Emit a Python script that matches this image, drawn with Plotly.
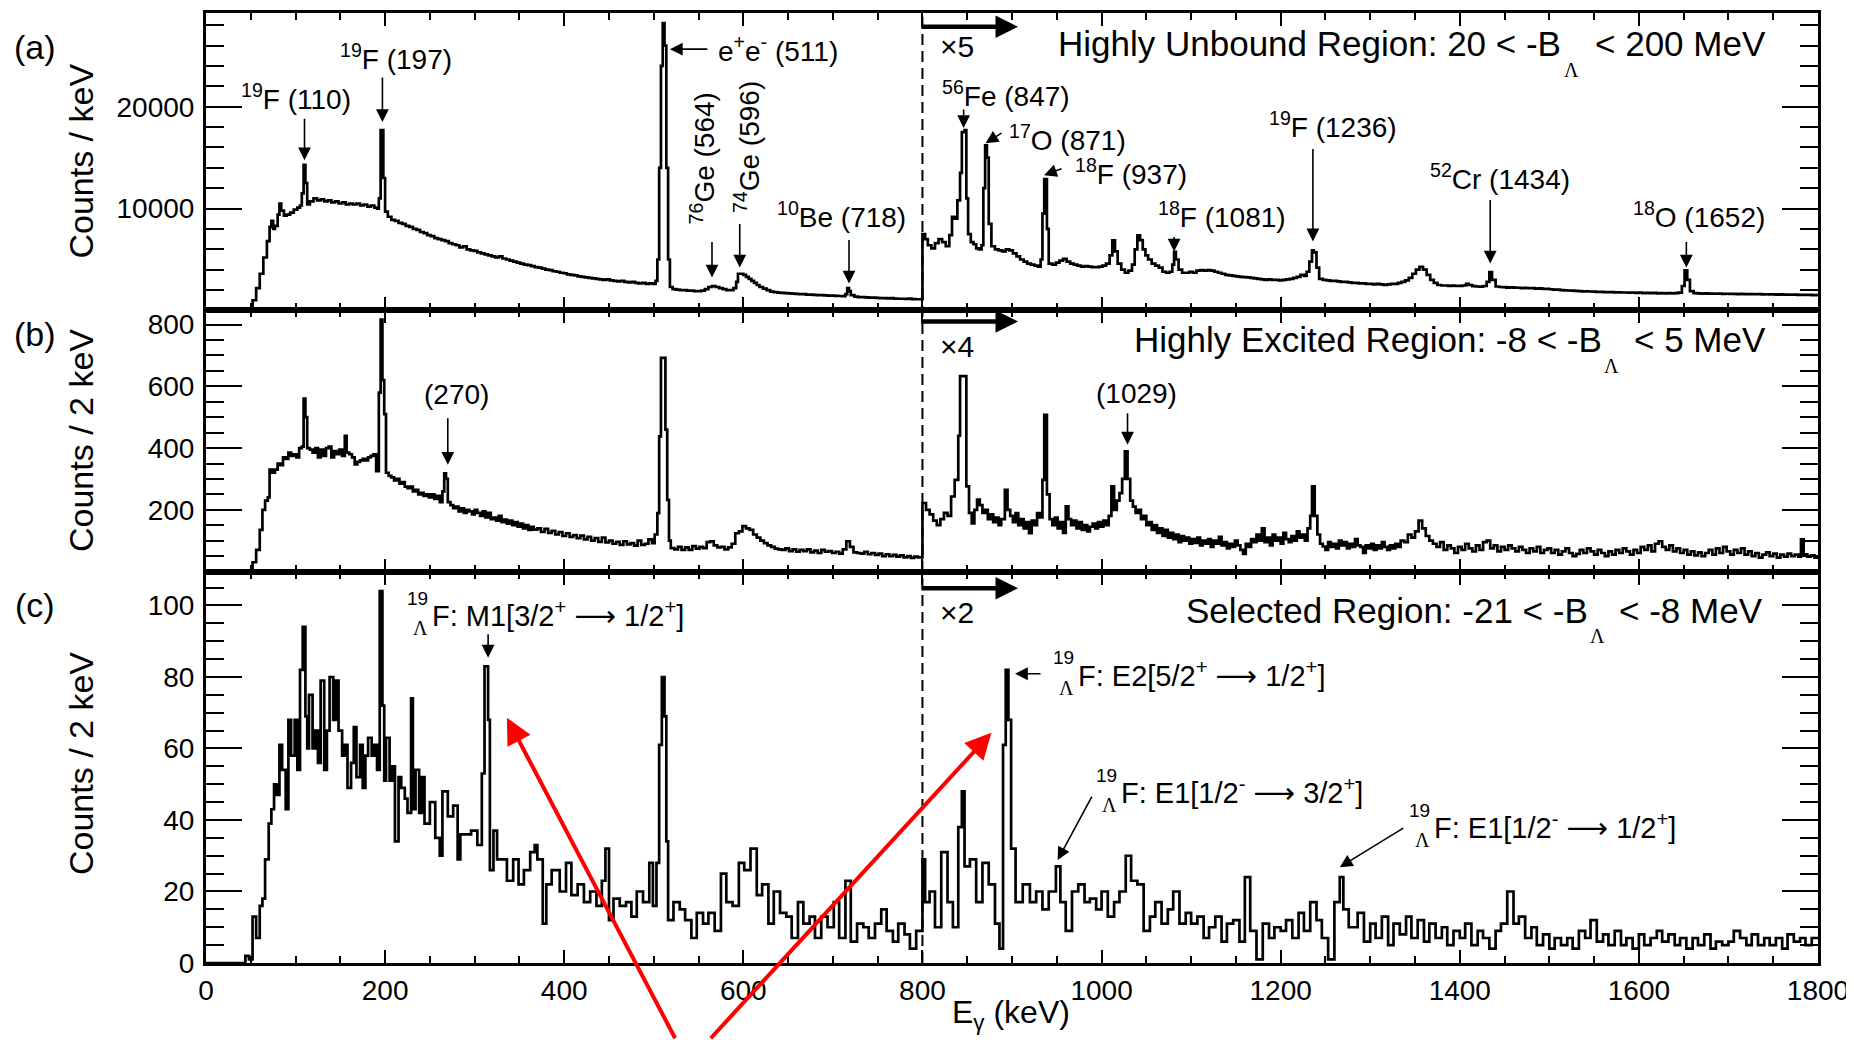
import plotly.graph_objects as go

# ---------------- data (energy keV, counts) ----------------
spectrum_a = [
    (0, 0), (48, 0), (52, 1000), (56, 2200), (60, 3600), (64, 5200), (68, 6800), (71, 8200), (73, 8800), (75, 8000),
    (77, 8300), (80, 9400), (82, 10500), (84, 9800), (87, 9300), (90, 9400), (94, 9600), (98, 9900), (102, 10100), (105, 10300),
    (107, 11500), (109, 14300), (111, 12500), (113, 10400), (116, 10700), (120, 11000), (124, 10800), (128, 10900), (132, 10700), (136, 10800),
    (140, 10600), (144, 10700), (148, 10500), (152, 10600), (156, 10400), (160, 10500), (164, 10400), (168, 10500), (172, 10300), (176, 10400),
    (180, 10200), (184, 10300), (188, 10100), (191, 10000), (193, 11000), (195, 17700), (198, 13000), (200, 9700), (203, 9200), (207, 8900),
    (211, 8800), (215, 8600), (219, 8500), (223, 8300), (227, 8200), (231, 8000), (235, 7900), (239, 7700), (243, 7600), (247, 7400),
    (251, 7300), (255, 7100), (259, 7000), (263, 6900), (267, 6800), (271, 6600), (275, 6500), (279, 6400), (283, 6200), (287, 6300),
    (291, 6000), (295, 5900), (299, 5850), (303, 5700), (307, 5600), (311, 5500), (315, 5400), (319, 5300), (323, 5200), (327, 5300),
    (331, 5100), (335, 5000), (339, 4900), (343, 4800), (347, 4700), (351, 4600), (355, 4500), (359, 4450), (363, 4350), (367, 4250),
    (371, 4200), (375, 4100), (379, 4000), (383, 3950), (387, 3850), (391, 3800), (395, 3700), (399, 3650), (403, 3550), (407, 3500),
    (411, 3450), (415, 3350), (419, 3300), (423, 3250), (427, 3200), (431, 3150), (435, 3100), (439, 3050), (443, 3000), (447, 3050),
    (451, 2950), (455, 2900), (459, 2850), (463, 2900), (467, 2800), (471, 2750), (475, 2800), (479, 2700), (483, 2650), (487, 2700),
    (491, 2600), (495, 2650), (499, 2600), (502, 2900), (504, 5000), (506, 14000), (508, 24000), (510, 28200), (512, 26000), (514, 14000),
    (516, 5000), (518, 2300), (521, 2100), (525, 2050), (529, 2000), (533, 2000), (537, 1950), (541, 1950), (545, 1900), (549, 1900),
    (553, 1950), (557, 2100), (561, 2300), (565, 2400), (569, 2300), (573, 2200), (577, 2100), (581, 2000), (585, 2000), (589, 2200),
    (592, 2800), (594, 3600), (597, 3600), (600, 3500), (603, 3300), (606, 3100), (609, 2900), (612, 2700), (615, 2500), (618, 2300),
    (622, 2150), (626, 2000), (630, 1850), (634, 1800), (638, 1750), (642, 1720), (646, 1700), (650, 1680), (654, 1650), (658, 1620),
    (662, 1600), (666, 1600), (670, 1560), (674, 1550), (678, 1530), (682, 1500), (686, 1500), (690, 1480), (694, 1460), (698, 1450),
    (702, 1440), (706, 1420), (710, 1400), (714, 1600), (716, 2200), (718, 1900), (720, 1500), (724, 1350), (728, 1300), (732, 1300),
    (736, 1280), (740, 1250), (744, 1250), (748, 1230), (752, 1200), (756, 1200), (760, 1180), (764, 1200), (768, 1170), (772, 1150),
    (776, 1150), (780, 1130), (784, 1160), (788, 1120), (792, 1100), (796, 1100),
    (800, 7500), (803, 7000), (806, 6400), (810, 6100), (814, 6600), (818, 7000), (822, 6700), (826, 6300), (830, 7400), (833, 9200),
    (836, 9000), (839, 10800), (842, 13500), (844, 17500), (847, 17700), (849, 11000), (851, 7500), (854, 6700), (857, 6500), (860, 6100),
    (863, 6000), (866, 6400), (868, 12000), (870, 16200), (872, 15000), (874, 8500), (877, 6300), (881, 6000), (885, 5900), (889, 5800),
    (893, 6000), (897, 5900), (901, 5600), (905, 5300), (909, 5000), (913, 4800), (917, 4600), (921, 4500), (925, 4400), (929, 4300),
    (932, 5000), (934, 9500), (936, 12900), (939, 8000), (941, 4600), (945, 4500), (949, 4700), (953, 4900), (957, 5070), (961, 4800),
    (965, 4600), (969, 4500), (973, 4400), (977, 4300), (981, 4350), (985, 4300), (989, 4250), (993, 4250), (997, 4300), (1001, 4400),
    (1005, 4600), (1009, 5400), (1012, 6880), (1015, 5800), (1018, 4600), (1022, 4000), (1026, 3700), (1030, 3900), (1034, 4500), (1037, 6000),
    (1040, 7370), (1043, 6900), (1046, 6000), (1049, 5400), (1052, 5000), (1056, 4600), (1060, 4400), (1064, 4200), (1068, 3800), (1072, 3700),
    (1076, 3800), (1079, 4500), (1081, 5750), (1083, 5000), (1086, 4000), (1090, 3700), (1094, 3700), (1098, 3800), (1102, 3700), (1106, 3900),
    (1110, 3950), (1114, 3900), (1118, 3950), (1122, 3900), (1126, 3800), (1130, 3700), (1134, 3600), (1138, 3500), (1142, 3450), (1146, 3400),
    (1150, 3350), (1154, 3300), (1158, 3280), (1162, 3250), (1166, 3200), (1170, 3150), (1174, 3100), (1178, 3050), (1182, 3000), (1186, 3050),
    (1190, 3000), (1194, 3000), (1198, 2950), (1202, 3000), (1206, 3050), (1210, 3100), (1214, 3200), (1218, 3300), (1222, 3500), (1226, 3400),
    (1229, 3800), (1232, 4800), (1235, 5900), (1237, 5700), (1240, 4200), (1243, 3100), (1247, 3000), (1251, 2950), (1255, 2900), (1259, 2900),
    (1263, 2850), (1267, 2800), (1271, 2800), (1275, 2750), (1279, 2700), (1283, 2700), (1287, 2650), (1291, 2650), (1295, 2600), (1299, 2600),
    (1303, 2550), (1307, 2600), (1311, 2550), (1315, 2500), (1319, 2550), (1323, 2600), (1327, 2600), (1331, 2700), (1335, 2800), (1339, 2950),
    (1343, 3200), (1347, 3600), (1351, 4000), (1355, 4270), (1359, 4000), (1363, 3500), (1367, 3000), (1371, 2700), (1375, 2500), (1379, 2450),
    (1383, 2450), (1387, 2420), (1391, 2430), (1395, 2400), (1399, 2420), (1403, 2450), (1407, 2600), (1410, 2500), (1414, 2380), (1418, 2350),
    (1422, 2330), (1426, 2400), (1430, 2800), (1433, 3770), (1436, 3000), (1440, 2350), (1444, 2300), (1448, 2280), (1452, 2250), (1456, 2270),
    (1460, 2240), (1464, 2230), (1468, 2200), (1472, 2220), (1476, 2180), (1480, 2200), (1484, 2150), (1488, 2160), (1492, 2120), (1496, 2130),
    (1500, 2080), (1504, 2050), (1508, 2040), (1512, 2000), (1516, 1980), (1520, 1960), (1524, 1950), (1528, 1920), (1532, 1900), (1536, 1880),
    (1540, 1870), (1544, 1860), (1548, 1840), (1552, 1830), (1556, 1820), (1560, 1800), (1564, 1790), (1568, 1800), (1572, 1770), (1576, 1780),
    (1580, 1760), (1584, 1760), (1588, 1740), (1592, 1760), (1596, 1720), (1600, 1740), (1604, 1700), (1608, 1720), (1612, 1700), (1616, 1720),
    (1620, 1680), (1624, 1700), (1628, 1680), (1632, 1700), (1636, 1680), (1640, 1700), (1644, 1750), (1648, 2400), (1651, 3930), (1654, 3000),
    (1657, 1900), (1661, 1700), (1665, 1680), (1669, 1660), (1673, 1680), (1677, 1650), (1681, 1660), (1685, 1640), (1689, 1650), (1693, 1630),
    (1697, 1640), (1701, 1620), (1705, 1630), (1709, 1610), (1713, 1620), (1717, 1600), (1721, 1610), (1725, 1600), (1729, 1590), (1733, 1600),
    (1737, 1580), (1741, 1590), (1745, 1570), (1749, 1580), (1753, 1560), (1757, 1570), (1761, 1550), (1765, 1560), (1769, 1540), (1773, 1550),
    (1777, 1530), (1781, 1540), (1785, 1520), (1789, 1530), (1793, 1510), (1797, 1500), (1800, 1500),
]

spectrum_b = [
    (0, 0), (48, 0), (52, 30), (56, 70), (60, 135), (63, 200), (66, 230), (69, 240), (71, 330), (74, 320),
    (77, 330), (80, 350), (83, 345), (86, 370), (89, 365), (92, 385), (95, 375), (98, 380), (101, 370), (104, 400),
    (107, 405), (109, 560), (111, 500), (113, 400), (116, 395), (119, 385), (122, 400), (125, 370), (128, 395), (131, 375),
    (134, 400), (137, 405), (140, 370), (143, 390), (146, 380), (149, 395), (152, 375), (155, 440), (157, 385), (160, 380),
    (163, 370), (166, 347), (169, 355), (172, 360), (175, 365), (178, 360), (181, 370), (184, 375), (187, 380), (190, 325),
    (193, 580), (195, 816), (197, 620), (199, 510), (201, 320), (204, 310), (207, 305), (210, 295), (213, 300), (216, 285),
    (219, 290), (222, 275), (225, 270), (228, 275), (231, 260), (234, 265), (237, 250), (240, 255), (243, 245), (246, 250),
    (249, 240), (252, 250), (255, 235), (258, 245), (261, 225), (264, 260), (266, 318), (268, 300), (270, 225), (273, 215),
    (276, 205), (279, 210), (282, 195), (285, 205), (288, 190), (291, 200), (294, 195), (297, 185), (300, 200), (303, 190),
    (306, 180), (309, 195), (312, 175), (315, 190), (318, 170), (321, 175), (324, 165), (327, 180), (330, 160), (333, 168),
    (336, 155), (339, 165), (342, 150), (345, 160), (348, 145), (351, 155), (354, 140), (357, 150), (360, 135), (363, 145),
    (366, 136), (370, 140), (374, 128), (378, 138), (382, 125), (386, 132), (390, 120), (394, 128), (398, 115), (402, 124),
    (406, 112), (410, 118), (414, 108), (418, 116), (422, 104), (426, 112), (430, 100), (434, 108), (438, 96), (442, 110),
    (446, 94), (450, 100), (454, 90), (458, 96), (462, 86), (466, 98), (470, 88), (474, 92), (478, 84), (482, 100),
    (486, 86), (490, 90), (494, 104), (498, 92), (501, 120), (504, 189), (506, 438), (508, 692), (511, 692), (513, 460),
    (515, 232), (517, 100), (519, 76), (523, 72), (527, 80), (531, 70), (535, 78), (539, 70), (543, 82), (547, 74),
    (551, 80), (555, 76), (559, 95), (563, 98), (567, 85), (571, 78), (575, 80), (579, 72), (583, 78), (587, 90),
    (591, 124), (595, 130), (599, 147), (603, 140), (607, 135), (611, 120), (615, 110), (619, 100), (623, 92), (627, 85),
    (631, 80), (635, 74), (639, 72), (643, 70), (647, 75), (651, 66), (655, 72), (659, 64), (663, 70), (667, 66),
    (671, 72), (675, 62), (679, 68), (683, 60), (687, 70), (691, 64), (695, 66), (699, 60), (703, 64), (707, 58),
    (711, 72), (715, 98), (719, 80), (723, 62), (727, 60), (731, 58), (735, 64), (739, 56), (743, 60), (747, 54),
    (751, 58), (755, 50), (759, 56), (763, 50), (767, 54), (771, 48), (775, 52), (779, 46), (783, 50), (787, 44),
    (791, 48), (795, 46),
    (800, 222), (804, 200), (808, 185), (812, 165), (816, 150), (820, 170), (824, 190), (828, 180), (832, 243), (836, 297),
    (840, 440), (842, 633), (846, 633), (849, 276), (852, 190), (855, 156), (858, 200), (861, 233), (864, 215), (867, 190),
    (870, 200), (873, 170), (876, 185), (879, 160), (882, 175), (885, 150), (888, 170), (892, 265), (895, 200), (898, 180),
    (901, 160), (904, 189), (907, 150), (910, 170), (913, 140), (916, 160), (919, 124), (922, 165), (925, 150), (928, 189),
    (931, 175), (934, 297), (936, 508), (939, 250), (942, 170), (945, 150), (948, 175), (951, 140), (954, 160), (957, 125),
    (960, 211), (963, 170), (966, 150), (969, 165), (972, 140), (975, 160), (978, 135), (981, 150), (984, 130), (987, 145),
    (990, 155), (993, 140), (996, 160), (999, 145), (1002, 165), (1005, 150), (1008, 180), (1011, 276), (1014, 200), (1017, 230),
    (1020, 254), (1023, 300), (1026, 389), (1029, 300), (1032, 230), (1035, 210), (1038, 190), (1041, 200), (1044, 170), (1047, 180),
    (1050, 150), (1053, 160), (1056, 135), (1059, 150), (1062, 125), (1065, 140), (1068, 115), (1071, 135), (1074, 110), (1077, 125),
    (1080, 105), (1083, 120), (1086, 95), (1089, 115), (1092, 100), (1095, 110), (1098, 90), (1101, 105), (1104, 93), (1107, 110),
    (1110, 85), (1113, 100), (1116, 90), (1119, 105), (1122, 80), (1125, 100), (1128, 90), (1131, 112), (1134, 85), (1137, 95),
    (1140, 75), (1143, 90), (1146, 80), (1149, 100), (1152, 85), (1155, 70), (1158, 57), (1161, 90), (1164, 80), (1167, 105),
    (1170, 95), (1173, 120), (1176, 100), (1179, 140), (1182, 95), (1185, 110), (1188, 85), (1191, 120), (1194, 100), (1197, 110),
    (1200, 90), (1203, 125), (1206, 105), (1209, 95), (1212, 115), (1215, 100), (1218, 130), (1221, 110), (1224, 120), (1227, 100),
    (1230, 140), (1233, 180), (1235, 276), (1238, 180), (1241, 120), (1244, 90), (1247, 81), (1250, 70), (1253, 95), (1256, 80),
    (1259, 90), (1262, 75), (1265, 100), (1268, 85), (1271, 95), (1274, 75), (1277, 90), (1280, 80), (1283, 105), (1286, 85),
    (1289, 80), (1292, 60), (1295, 85), (1298, 75), (1301, 90), (1304, 70), (1307, 85), (1310, 75), (1313, 95), (1316, 80),
    (1319, 70), (1322, 85), (1325, 75), (1328, 90), (1331, 80), (1334, 100), (1338, 95), (1342, 120), (1346, 110), (1350, 130),
    (1354, 165), (1358, 140), (1362, 115), (1366, 100), (1370, 90), (1374, 80), (1378, 95), (1382, 70), (1386, 85), (1390, 75),
    (1394, 60), (1398, 80), (1402, 70), (1406, 90), (1410, 75), (1414, 65), (1418, 85), (1422, 70), (1426, 95), (1430, 100),
    (1434, 75), (1438, 85), (1442, 65), (1446, 80), (1450, 70), (1454, 85), (1458, 75), (1462, 65), (1466, 80), (1470, 70),
    (1474, 60), (1478, 75), (1482, 65), (1486, 80), (1490, 60), (1494, 70), (1498, 75), (1502, 60), (1506, 70), (1510, 55),
    (1514, 65), (1518, 75), (1522, 60), (1526, 50), (1530, 57), (1534, 70), (1538, 60), (1542, 75), (1546, 65), (1550, 55),
    (1554, 70), (1558, 60), (1562, 50), (1566, 65), (1570, 55), (1574, 70), (1578, 60), (1582, 75), (1586, 65), (1590, 55),
    (1594, 70), (1598, 60), (1602, 80), (1606, 70), (1610, 85), (1614, 65), (1618, 90), (1622, 98), (1626, 80), (1630, 70),
    (1634, 85), (1638, 65), (1642, 75), (1646, 60), (1650, 70), (1654, 55), (1658, 65), (1662, 52), (1666, 62), (1670, 50),
    (1674, 60), (1678, 70), (1682, 55), (1686, 75), (1690, 60), (1694, 80), (1698, 65), (1702, 55), (1706, 70), (1710, 60),
    (1714, 75), (1718, 55), (1722, 65), (1726, 50), (1730, 60), (1734, 45), (1738, 55), (1742, 62), (1746, 50), (1750, 58),
    (1754, 45), (1758, 55), (1762, 48), (1766, 58), (1770, 50), (1774, 55), (1778, 48), (1781, 104), (1784, 56), (1788, 48),
    (1792, 52), (1796, 45), (1800, 45),
]

spectrum_c = [
    (0, 0), (44, 2), (48, 1), (52, 13), (56, 7), (60, 16), (63, 18), (66, 29), (70, 39), (73, 43),
    (76, 50), (79, 47), (82, 61), (85, 54), (89, 43), (92, 68), (95, 58), (99, 68), (102, 54), (105, 82),
    (108, 94), (111, 69), (113, 60), (115, 75), (119, 60), (122, 65), (125, 56), (128, 79), (132, 54), (135, 65),
    (138, 80), (142, 68), (145, 79), (148, 65), (152, 58), (155, 61), (158, 49), (162, 56), (165, 66), (168, 52),
    (172, 61), (175, 49), (178, 58), (181, 63), (185, 58), (188, 61), (191, 54), (194, 104), (197, 72), (199, 51),
    (201, 63), (205, 51), (208, 55), (211, 34), (215, 52), (218, 49), (222, 46), (225, 42), (229, 74), (231, 43),
    (234, 54), (238, 42), (241, 52), (244, 39), (250, 45), (256, 35), (261, 30), (264, 48), (270, 41), (276, 44),
    (281, 29), (284, 36), (290, 36), (296, 37), (303, 33), (308, 53), (311, 83), (315, 68), (317, 26), (321, 37),
    (325, 29), (330, 29), (336, 23), (343, 29), (349, 22), (355, 26), (362, 31), (367, 33), (370, 29), (376, 11),
    (380, 22), (386, 26), (395, 20), (402, 28), (408, 19), (415, 22), (422, 17), (429, 20), (436, 16), (442, 23),
    (446, 32), (450, 12), (455, 18), (462, 16), (469, 17), (475, 13), (481, 20), (488, 17), (495, 28), (499, 16),
    (503, 28), (506, 61), (509, 80), (512, 69), (514, 34), (516, 12), (522, 17), (529, 15), (535, 12), (542, 7),
    (548, 14), (555, 11), (561, 14), (568, 9), (575, 25), (581, 17), (588, 16), (595, 28), (601, 26), (608, 32),
    (615, 19), (621, 22), (628, 11), (634, 20), (641, 14), (648, 13), (654, 7), (661, 17), (667, 11), (674, 13),
    (680, 7), (687, 13), (694, 10), (701, 17), (707, 7), (714, 23), (720, 6), (727, 11), (734, 10), (740, 7),
    (747, 11), (754, 15), (760, 9), (767, 6), (773, 11), (780, 8), (786, 4), (793, 9),
    (800, 29), (803, 17), (808, 20), (814, 10), (821, 31), (828, 17), (834, 10), (840, 38), (844, 48), (847, 27),
    (853, 29), (860, 17), (867, 28), (874, 22), (881, 11), (886, 4), (890, 61), (893, 82), (896, 68), (899, 32),
    (904, 17), (912, 22), (920, 17), (927, 20), (934, 15), (941, 20), (949, 27), (954, 17), (960, 9), (967, 20),
    (974, 22), (981, 17), (987, 18), (994, 15), (1000, 20), (1007, 13), (1014, 17), (1020, 20), (1027, 30), (1033, 23),
    (1040, 22), (1047, 9), (1054, 13), (1060, 17), (1067, 11), (1074, 15), (1080, 20), (1087, 11), (1094, 14), (1100, 11),
    (1107, 13), (1114, 7), (1120, 10), (1127, 13), (1134, 6), (1140, 11), (1147, 12), (1154, 6), (1160, 24), (1166, 9),
    (1173, 1), (1180, 11), (1187, 7), (1193, 10), (1200, 9), (1206, 12), (1213, 7), (1220, 14), (1226, 9), (1233, 17),
    (1240, 12), (1246, 7), (1253, 1), (1260, 17), (1266, 24), (1270, 15), (1276, 10), (1286, 14), (1293, 6), (1300, 11),
    (1306, 7), (1313, 13), (1320, 5), (1326, 11), (1333, 8), (1340, 13), (1346, 7), (1353, 12), (1360, 6), (1366, 11),
    (1373, 7), (1380, 10), (1386, 5), (1393, 9), (1400, 7), (1406, 11), (1413, 5), (1420, 9), (1426, 7), (1433, 4),
    (1440, 9), (1446, 11), (1453, 20), (1460, 11), (1466, 13), (1473, 7), (1480, 10), (1486, 5), (1493, 8), (1500, 4),
    (1506, 7), (1513, 5), (1520, 7), (1526, 4), (1533, 9), (1540, 7), (1546, 12), (1553, 6), (1560, 8), (1566, 5),
    (1573, 9), (1580, 5), (1586, 7), (1593, 4), (1600, 8), (1606, 5), (1613, 7), (1620, 9), (1626, 6), (1633, 8),
    (1640, 5), (1646, 7), (1653, 4), (1660, 7), (1666, 5), (1673, 8), (1680, 4), (1686, 6), (1693, 5), (1700, 6),
    (1706, 9), (1713, 7), (1720, 5), (1726, 8), (1733, 5), (1740, 7), (1746, 5), (1753, 7), (1760, 4), (1766, 8),
    (1773, 6), (1780, 7), (1786, 5), (1793, 7), (1800, 7),
]

y_ticks_a = [10000, 20000]
y_ticks_b = [200, 400, 600, 800]
y_ticks_c = [0, 20, 40, 60, 80, 100]
x_ticks = [0, 200, 400, 600, 800, 1000, 1200, 1400, 1600, 1800]

FONT = "Liberation Sans, Arial, sans-serif"
SERIF = "Liberation Serif, serif"
ARROW = '<span style="font-family:DejaVu Sans">⟶</span>'

fig = go.Figure()
for spec, xa, ya in [(spectrum_a, "x", "y"), (spectrum_b, "x2", "y2"), (spectrum_c, "x3", "y3")]:
    fig.add_trace(go.Scatter(
        x=[p[0] for p in spec], y=[p[1] for p in spec], mode="lines",
        line=dict(shape="hv", color="black", width=2.7),
        xaxis=xa, yaxis=ya, showlegend=False, hoverinfo="skip"))

xcommon = dict(range=[0, 1800], showline=True, linewidth=3, linecolor="black", mirror="ticks",
               ticks="inside", ticklen=13, tickwidth=2, tickcolor="black",
               tickmode="array", tickvals=x_ticks, ticktext=[str(v) for v in x_ticks],
               minor=dict(ticks="inside", ticklen=7, tickwidth=2, tickcolor="black", dtick=50, tick0=0),
               showgrid=False, zeroline=False, automargin=False,
               tickfont=dict(family=FONT, size=28, color="black"))
ycommon = dict(showline=True, linewidth=3, linecolor="black", mirror="ticks",
               ticks="inside", ticklen=36, tickwidth=2, tickcolor="black", tickmode="array",
               showgrid=False, zeroline=False, ticklabelstandoff=3, automargin=False,
               tickfont=dict(family=FONT, size=28, color="black"))

# the page body adds an 8 px offset, so the figure is 8 px smaller and margins shifted
fig.update_layout(
    width=1846, height=1032,
    margin=dict(l=198, r=36, t=5, b=77, autoexpand=False),
    paper_bgcolor="white", plot_bgcolor="white", showlegend=False,
    font=dict(family=FONT, size=28, color="black"),
    xaxis=dict(xcommon, anchor="y", showticklabels=False),
    xaxis2=dict(xcommon, anchor="y2", matches="x", showticklabels=False),
    xaxis3=dict(xcommon, anchor="y3", matches="x", showticklabels=True),
    yaxis=dict(ycommon, domain=[0.6869, 1.0], range=[0, 29200], tickvals=y_ticks_a,
               ticktext=[str(v) for v in y_ticks_a],
               minor=dict(ticks="inside", ticklen=18, tickwidth=2, tickcolor="black", dtick=2000, tick0=0)),
    yaxis2=dict(ycommon, domain=[0.4121, 0.6869], range=[0, 846], tickvals=y_ticks_b,
                ticktext=[str(v) for v in y_ticks_b],
                minor=dict(ticks="inside", ticklen=18, tickwidth=2, tickcolor="black", dtick=50, tick0=0)),
    yaxis3=dict(ycommon, domain=[0.0, 0.4121], range=[0, 109.5], tickvals=y_ticks_c,
                ticktext=[str(v) for v in y_ticks_c],
                minor=dict(ticks="inside", ticklen=18, tickwidth=2, tickcolor="black", dtick=5, tick0=0)),
)

XREF = {"y": "x", "y2": "x2", "y3": "x3"}
ann = []


def txt(text, x, y, yref, size=28, xanchor="center", yanchor="middle", angle=0, family=FONT):
    ann.append(dict(text=text, x=x, y=y, xref=XREF[yref], yref=yref, showarrow=False,
                    font=dict(family=family, size=size, color="black"),
                    xanchor=xanchor, yanchor=yanchor, textangle=angle))


def arr(x, y, yref, ax, ay, color="black", width=1.6, size=1.6, head=2):
    ann.append(dict(text="", x=x, y=y, xref=XREF[yref], yref=yref, showarrow=True,
                    ax=ax, ay=ay, axref="pixel", ayref="pixel", arrowhead=head,
                    arrowsize=size, arrowwidth=width, arrowcolor=color, standoff=0, startstandoff=0))


def paper_txt(text, x, y, size=34, angle=0, xanchor="center", yanchor="middle"):
    ann.append(dict(text=text, x=x, y=y, xref="paper", yref="paper", showarrow=False,
                    font=dict(family=FONT, size=size, color="black"),
                    xanchor=xanchor, yanchor=yanchor, textangle=angle))


# panel letters and axis titles
paper_txt("(a)", -0.1061, 0.9640)
paper_txt("(b)", -0.1061, 0.6625)
paper_txt("(c)", -0.1061, 0.3770)
paper_txt("Counts / keV", -0.0775, 0.8437, angle=-90)
paper_txt("Counts / 2 keV", -0.0775, 0.5495, angle=-90)
paper_txt("Counts / 2 keV", -0.0775, 0.2095, angle=-90)
paper_txt("E<sub>γ</sub> (keV)", 0.4994, -0.054, size=32)

# ---- panel (a) ----
txt("<sup>19</sup>F (110)", 100.5, 20940, "y")
txt("<sup>19</sup>F (197)", 212, 24880, "y")
txt("e<sup>+</sup>e<sup>-</sup> (511)", 638.7, 25650, "y")
txt("<sup>76</sup>Ge (564)", 555, 14930, "y", angle=-90)
txt("<sup>74</sup>Ge (596)", 604, 16030, "y", angle=-90)
txt("<sup>10</sup>Be (718)", 710, 9340, "y")
txt("<sup>56</sup>Fe (847)", 893, 21240, "y")
txt("<sup>17</sup>O (871)", 962.5, 16920, "y")
txt("<sup>18</sup>F (937)", 1033, 13570, "y")
txt("<sup>18</sup>F (1081)", 1134.5, 9340, "y")
txt("<sup>19</sup>F (1236)", 1258.4, 18200, "y")
txt("<sup>52</sup>Cr (1434)", 1445, 13080, "y")
txt("<sup>18</sup>O (1652)", 1667, 9340, "y")
for tip in [(110, 14750, 0, -43), (197, 18490, 0, -46), (518, 25650, 39, 0), (565, 3240, 0, -37),
            (596, 4220, 0, -45), (718, 2650, 0, -45), (846, 17900, 0, -20), (870.4, 16420, 17.5, -11),
            (935.8, 13270, 19, -7), (1081, 5790, 0, -16), (1236, 6780, 0, -94), (1434, 4610, 0, -65),
            (1653, 4220, 0, -27)]:
    arr(tip[0], tip[1], "y", tip[2], tip[3])
txt("Highly Unbound Region: 20 &lt; -B", 1515.3, 26165, "y", size=35, xanchor="right")
txt("&lt; 200 MeV", 1548.8, 26165, "y", size=35, xanchor="left")
txt("Λ", 1525.3, 23650, "y", size=20, family=SERIF)
txt("×5", 838.6, 25870, "y", size=30)
arr(906.7, 27840, "y", -98, 0, width=4.5, size=1.0)

# ---- panel (b) ----
txt("(270)", 280, 573, "y2")
txt("(1029)", 1038.5, 576, "y2")
arr(270, 346, "y2", 0, -48)
arr(1029, 411, "y2", 0, -33)
txt("Highly Excited Region: -8 &lt; -B", 1561.1, 751, "y2", size=35, xanchor="right")
txt("&lt; 5 MeV", 1592.3, 751, "y2", size=35, xanchor="left")
txt("Λ", 1569, 667, "y2", size=20, family=SERIF)
txt("×4", 838.6, 729, "y2", size=30)
arr(906.7, 810, "y2", -98, 0, width=4.5, size=1.0)

# ---- panel (c) ----
txt("Selected Region: -21 &lt; -B", 1545.4, 98.7, "y3", size=35, xanchor="right")
txt("&lt; -8 MeV", 1575.6, 98.7, "y3", size=35, xanchor="left")
txt("Λ", 1554.3, 91.6, "y3", size=20, family=SERIF)
txt("×2", 838.6, 98, "y3", size=30)
arr(906.7, 104.8, "y3", -98, 0, width=4.5, size=1.0)

hyper = [
    ("F: M1[3/2<sup>+</sup> " + ARROW + " 1/2<sup>+</sup>]", 250, 97.5, 101.9, 93.6),
    ("F: E2[5/2<sup>+</sup> " + ARROW + " 1/2<sup>+</sup>]", 971.5, 80.7, 85.4, 77.0),
    ("F: E1[1/2<sup>-</sup> " + ARROW + " 3/2<sup>+</sup>]", 1020, 47.9, 52.4, 44.2),
    ("F: E1[1/2<sup>-</sup> " + ARROW + " 1/2<sup>+</sup>]", 1369, 38.1, 42.6, 34.4),
]
for text, x0, yc, ysup, ysub in hyper:
    txt(text, x0, yc, "y3", size=29, xanchor="left")
    txt("19", x0, ysup, "y3", size=19, xanchor="right")
    txt("Λ", x0, ysub, "y3", size=20, xanchor="right", family=SERIF)
arr(315, 85.4, "y3", 0, -25)
arr(903.4, 80.9, "y3", 27, 0)
arr(951, 28.8, "y3", 35, -65)
arr(1266, 26.8, "y3", 65, -40)

# red highlight arrows
arr(336, 68.6, "y3", 169, 322, color="#ff0000", width=4, size=1.3)
arr(877, 64.4, "y3", -282, 307, color="#ff0000", width=4, size=1.3)

fig.update_layout(annotations=ann)

# dashed divider at 800 keV through all panels
fig.add_shape(type="line", x0=800, x1=800, xref="x", y0=0, y1=1, yref="paper",
              line=dict(color="black", width=2, dash="11px,6px"))

fig.write_html("out.html")
